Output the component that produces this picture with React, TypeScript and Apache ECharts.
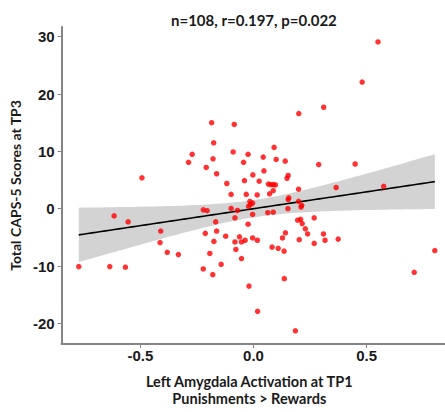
import React, { useEffect, useRef } from "react";
import * as echarts from "echarts";

// Left Amygdala Activation at TP1 (Punishments > Rewards)
const xValues: number[] = [
  0.55, 0.48, 0.31, 0.2, -0.185, -0.085,
  -0.176, 0.091, -0.09, -0.271, -0.024, -0.179, 0.043, 0.1, -0.287, -0.044, 0.14, 0.288, 0.449, -0.209, 0.046, -0.163, -0.003, 0.153, 0.148, -0.493, -0.04, 0.025,
  -0.118, 0.066, 0.077, 0.088, 0.097, 0.365, 0.575, 0.199, 0.087, 0.071, -0.099, -0.032, 0.016, 0.156, 0.153,
  -0.016, -0.004, -0.013, -0.022,
  0.199, 0.213, 0.21, -0.222, -0.205, -0.099, -0.071, 0.152,
  -0.616, -0.554, -0.004, 0.063, 0.087, -0.082, 0.268, 0.195, 0.208, -0.167, 0.215, -0.024, 0.229, -0.41, -0.163,
  0.239, 0.141, 0.309, -0.213, -0.123, -0.062, 0.128, -0.004, 0.017, -0.037, 0.374, 0.316, 0.202, -0.175, -0.082, -0.053, -0.413, 0.268,
  0.082, 0.109, -0.078, 0.135, -0.381, -0.332, -0.193, 0.801, -0.053, -0.143,
  -0.772, -0.635, -0.566, -0.222, -0.18, -0.02, 0.136, 0.018, 0.185, 0.71,
];

// Total CAPS-5 Scores at TP3
const yValues: number[] = [
  29.1, 22.1, 17.7, 16.6, 15.0, 14.7,
  11.5, 10.7, 9.9, 9.5, 9.5, 8.7, 9.0, 8.6, 8.1, 8.1, 8.3, 7.7, 7.8, 7.2, 6.6, 6.1, 5.9, 5.8, 5.3, 5.4, 4.9, 4.8,
  4.4, 4.3, 4.2, 4.2, 4.15, 3.7, 3.9, 3.4, 3.15, 2.6, 2.5, 2.5, 2.4, 1.9, 1.6,
  1.27, 0.98, 0.75, 0.4,
  1.3, 0.6, 0.3, -0.2, -0.35, 0.05, -0.3, 0.0,
  -1.25, -2.3, -1.0, -0.7, -0.6, -1.6, -1.6, -2.0, -1.85, -2.3, -2.6, -2.7, -3.5, -3.9, -3.9,
  -4.4, -4.2, -4.4, -4.3, -4.8, -4.9, -5.1, -5.1, -5.5, -5.5, -5.3, -5.5, -5.4, -5.7, -5.8, -5.8, -5.9, -6.05,
  -6.7, -6.9, -7.1, -7.4, -7.6, -8.0, -7.8, -7.3, -8.7, -9.7,
  -10.1, -10.1, -10.2, -10.5, -11.5, -13.5, -12.2, -17.9, -21.3, -11.1,
];

const xTicks = [-0.5, 0, 0.5];
const yTicks = [-20, -10, 0, 10, 20, 30];

const titleText = "n=108, r=0.197, p=0.022";
const xName = "Left Amygdala Activation at TP1\nPunishments > Rewards";
const yName = "Total CAPS-5 Scores at TP3";

function buildFit() {
  const n = xValues.length;
  const mx = xValues.reduce((a, b) => a + b, 0) / n;
  const my = yValues.reduce((a, b) => a + b, 0) / n;
  let sxx = 0;
  let sxy = 0;
  for (let i = 0; i < n; i++) {
    sxx += (xValues[i] - mx) ** 2;
    sxy += (xValues[i] - mx) * (yValues[i] - my);
  }
  const b = sxy / sxx;
  const a = my - b * mx;
  let sse = 0;
  for (let i = 0; i < n; i++) sse += (yValues[i] - (a + b * xValues[i])) ** 2;
  const s = Math.sqrt(sse / (n - 2));
  const t = 1.9826;
  const xmin = Math.min(...xValues);
  const xmax = Math.max(...xValues);
  const steps = 80;
  const upper: number[][] = [];
  const lower: number[][] = [];
  const line: number[][] = [];
  for (let k = 0; k <= steps; k++) {
    const x = xmin + ((xmax - xmin) * k) / steps;
    const yhat = a + b * x;
    const se = s * Math.sqrt(1 / n + (x - mx) ** 2 / sxx);
    upper.push([x, yhat + t * se]);
    lower.push([x, yhat - t * se]);
    line.push([x, yhat]);
  }
  return { upper, lower, line };
}

export default function App() {
  const ref = useRef<HTMLDivElement>(null);
  useEffect(() => {
    document.body.style.margin = "0";
    if (!ref.current) return;
    const chart = echarts.init(ref.current, undefined, { renderer: "svg" });
    const fit = buildFit();
    const bandPoly = [...fit.upper, ...fit.lower.slice().reverse()];
    const axisFont = { fontFamily: "Liberation Sans", fontWeight: "bold" as const, fontSize: 15, color: "#1a1a1a" };
    chart.setOption({
      animation: false,
      backgroundColor: "#ffffff",
      title: {
        text: titleText,
        left: 166,
        top: 7,
        textStyle: { fontFamily: "Lato", fontWeight: "bold", fontSize: 15, color: "#1a1a1a" },
      },
      grid: { left: 61, top: 27, width: 384, height: 322, containLabel: false },
      xAxis: {
        type: "value",
        min: -0.848,
        max: 0.846,
        name: xName,
        nameLocation: "middle",
        nameGap: 29,
        nameTextStyle: { fontFamily: "Lato", fontWeight: "bold", fontSize: 14.5, color: "#1a1a1a", lineHeight: 17, padding: [0, 8, 0, 0] },
        axisLine: { show: true, onZero: false, lineStyle: { color: "#858585", width: 2 } },
        axisTick: { show: true, length: 4, customValues: xTicks, lineStyle: { color: "#858585", width: 1 } },
        axisLabel: { ...axisFont, margin: 4, customValues: xTicks, formatter: (v: number) => v.toFixed(1) },
        splitLine: { show: false },
      },
      yAxis: {
        type: "value",
        min: -23.6,
        max: 31.7,
        name: yName,
        nameLocation: "middle",
        nameGap: 37,
        nameRotate: 90,
        nameTextStyle: { fontFamily: "Lato", fontWeight: "bold", fontSize: 14, color: "#1a1a1a" },
        axisLine: { show: true, onZero: false, lineStyle: { color: "#858585", width: 2 } },
        axisTick: { show: true, length: 4, customValues: yTicks, lineStyle: { color: "#858585", width: 1 } },
        axisLabel: { ...axisFont, margin: 7, customValues: yTicks, formatter: (v: number) => String(v) },
        splitLine: { show: false },
      },
      series: [
        {
          type: "custom",
          silent: true,
          z: 1,
          data: [0],
          renderItem: (_params: any, api: any) => ({
            type: "polygon",
            shape: { points: bandPoly.map((p) => api.coord(p)) },
            style: { fill: "#d3d3d3", stroke: "none" },
          }),
        },
        {
          type: "line",
          z: 2,
          data: fit.line,
          showSymbol: false,
          symbol: "none",
          lineStyle: { color: "#000000", width: 1.6 },
        },
        {
          type: "scatter",
          z: 3,
          data: xValues.map((x, i) => [x, yValues[i]]),
          symbolSize: 5.5,
          itemStyle: { color: "#ff0000" },
        },
      ],
    });
    return () => chart.dispose();
  }, []);
  return <div ref={ref} style={{ width: 445, height: 412 }} />;
}
